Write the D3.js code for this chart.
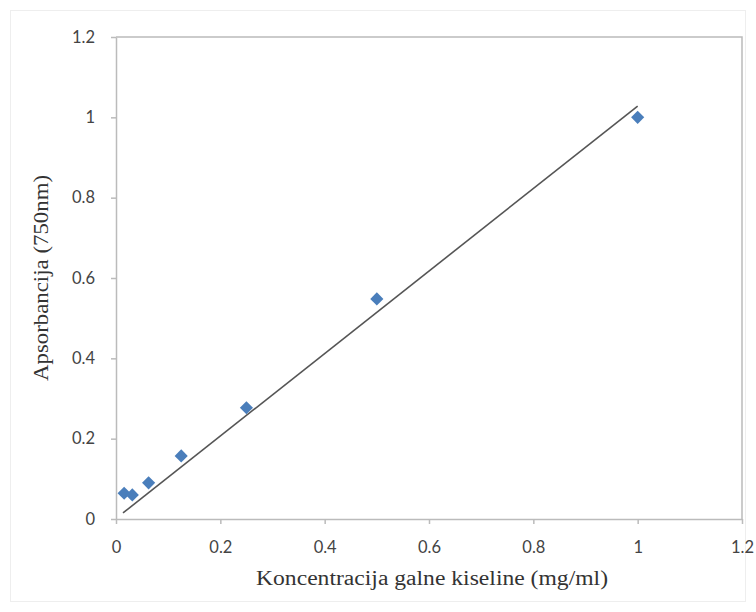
<!DOCTYPE html>
<html>
<head>
<meta charset="utf-8">
<script src="https://cdn.jsdelivr.net/npm/d3@7"></script>
<style>
  body { margin: 0; background: #fff; }
  .tick text { font-family: Lato, "Liberation Sans", sans-serif; font-size: 16.5px; fill: #444; }
  .axis-title { font-family: "Liberation Serif", "DejaVu Serif", serif; font-size: 20px; fill: #333; }
</style>
</head>
<body>
<svg id="misvg"></svg>
<script>
// concentration (mg/ml) and absorbance at 750nm
const koncentracija = [0.0156, 0.03125, 0.0625, 0.125, 0.25, 0.5, 1];
const apsorbancija = [0.064, 0.060, 0.090, 0.157, 0.277, 0.548, 1.0];
// linear trendline endpoints
const trendX = [0.0134, 1];
const trendY = [0.015, 1.028];
const tickVals = [0, 0.2, 0.4, 0.6, 0.8, 1, 1.2];

const margin = { top: 37, right: 14, bottom: 93, left: 116 };
const W = 756, H = 612;
const width = W - margin.left - margin.right;
const height = H - margin.top - margin.bottom;

const root = d3.select("#misvg").attr("width", W).attr("height", H);

// faint frame round the chart area
root.append("rect")
  .attr("x", 10.5).attr("y", 10.5)
  .attr("width", W - 21).attr("height", H - 21)
  .attr("fill", "none").attr("stroke", "#eee");

const svg = root.append("g")
  .attr("transform", "translate(" + margin.left + "," + margin.top + ")");

const x = d3.scaleLinear().domain([0, 1.2]).range([0, width]);
const y = d3.scaleLinear().domain([0, 1.2]).range([height, 0]);

const fmt = d => d === 0 ? "0" : d3.format("")(+d.toFixed(1));

svg.append("g")
  .attr("transform", "translate(0," + height + ")")
  .call(d3.axisBottom(x).tickValues(tickVals).tickFormat(fmt).tickSize(5).tickSizeOuter(0))
  .call(g => g.selectAll("line, path").attr("stroke", "#bbb").attr("stroke-width", 1.5))
  .call(g => g.selectAll("text").attr("y", 22));

svg.append("g")
  .call(d3.axisLeft(y).tickValues(tickVals).tickFormat(fmt).tickSize(5).tickSizeOuter(0))
  .call(g => g.selectAll("line, path").attr("stroke", "#bbb").attr("stroke-width", 1.5))
  .call(g => g.selectAll("text").attr("x", -21));

// top and right border of plot area
svg.append("path")
  .attr("d", "M0," + y(1.2) + "H" + x(1.2) + "V" + y(0))
  .attr("fill", "none").attr("stroke", "#bbb").attr("stroke-width", 1.5);

// trendline
svg.append("line")
  .attr("x1", x(trendX[0])).attr("y1", y(trendY[0]))
  .attr("x2", x(trendX[1])).attr("y2", y(trendY[1]))
  .attr("stroke", "#555").attr("stroke-width", 1.6);

const pts = koncentracija.map((k, i) => ({ k: k, a: apsorbancija[i] }));

svg.selectAll(".pt")
  .data(pts)
  .enter().append("path")
  .attr("class", "pt")
  .attr("d", d3.symbol().type(d3.symbolDiamond2).size(110))
  .attr("transform", d => "translate(" + x(d.k) + "," + y(d.a) + ")")
  .attr("fill", "#4a7ebb");

svg.append("text")
  .attr("class", "axis-title")
  .attr("x", x(0.6) + 3).attr("y", height + 66)
  .attr("text-anchor", "middle")
  .attr("textLength", 352)
  .attr("lengthAdjust", "spacingAndGlyphs")
  .text("Koncentracija galne kiseline (mg/ml)");

svg.append("text")
  .attr("class", "axis-title")
  .attr("transform", "translate(" + (-68) + "," + y(0.6) + ") rotate(-90)")
  .attr("text-anchor", "middle")
  .attr("textLength", 206)
  .attr("lengthAdjust", "spacingAndGlyphs")
  .text("Apsorbancija (750nm)");
</script>
</body>
</html>
